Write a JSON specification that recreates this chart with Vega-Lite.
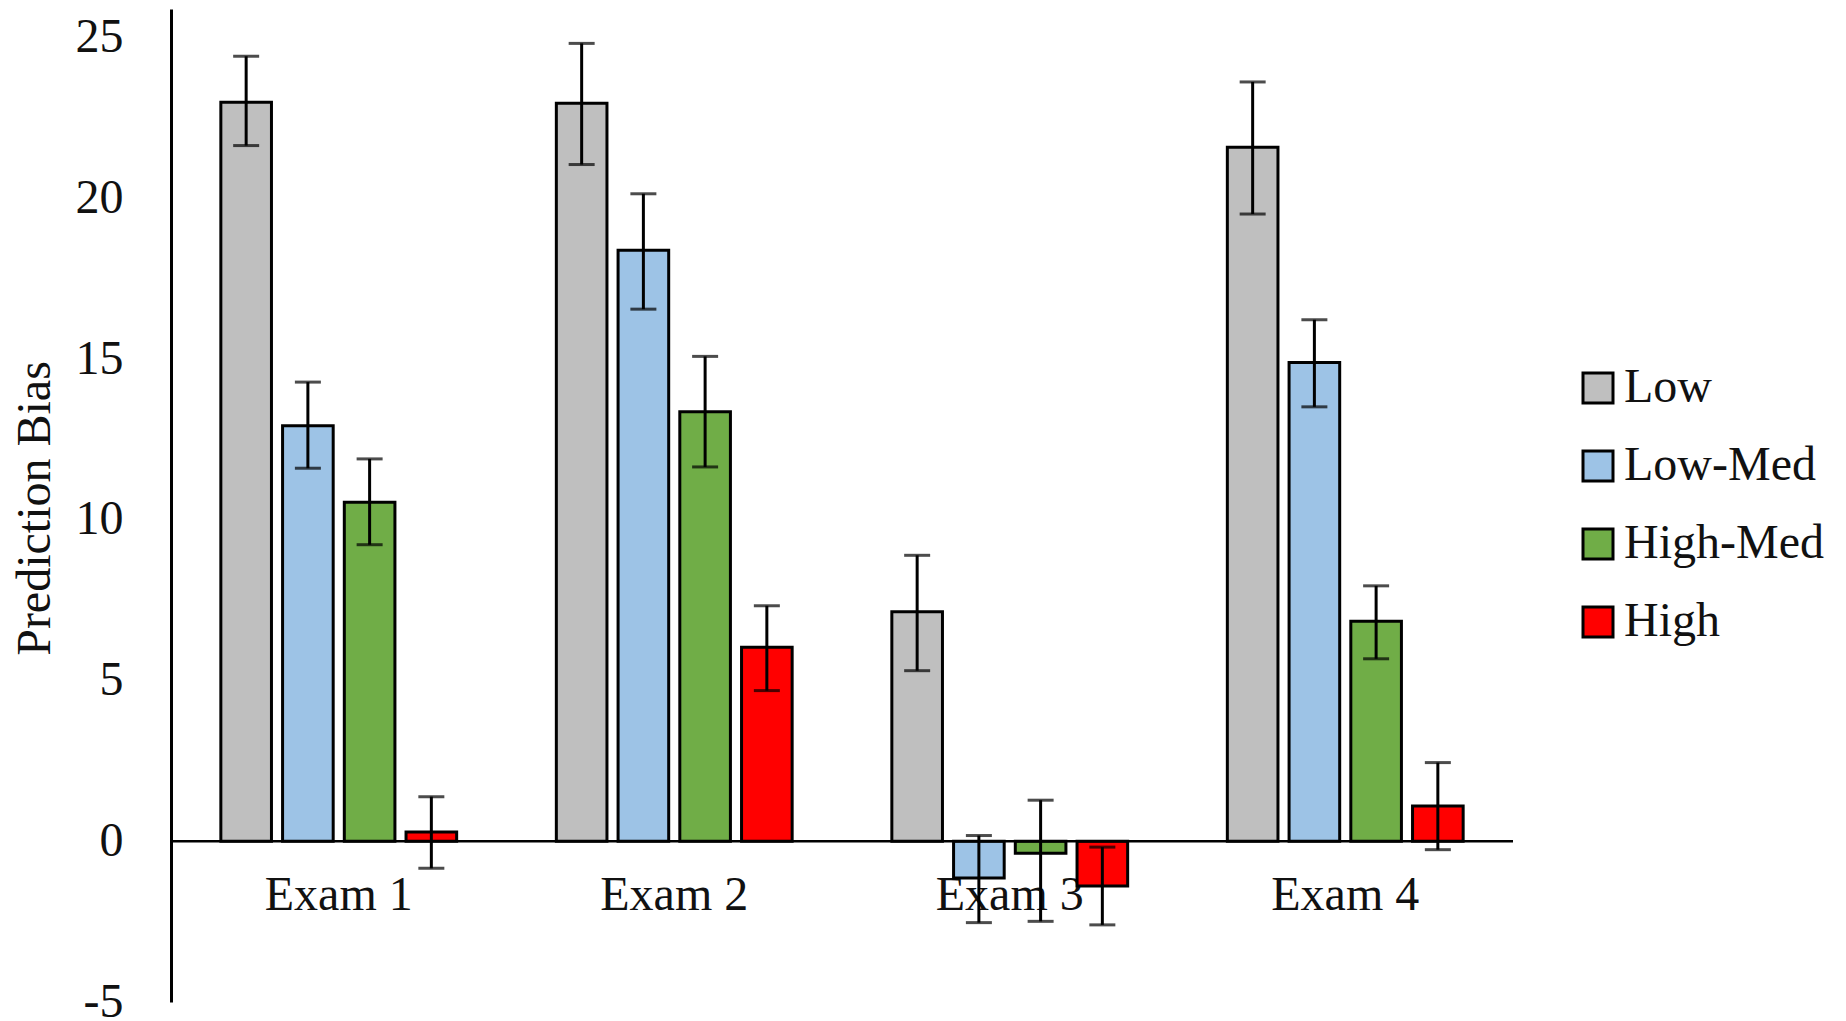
{
  "$schema": "https://vega.github.io/schema/vega-lite/v6.json",
  "autosize": "none",
  "width": 1342,
  "height": 993,
  "padding": {"left": 171, "top": 9, "right": 333, "bottom": 19},
  "background": "white",
  "config": {
    "view": {"stroke": null},
    "font": "Liberation Serif"
  },
  "data": {
    "values": [
      {"exam": "Exam 1", "group": "Low", "value": 23.0, "lo": 21.65, "hi": 24.43},
      {"exam": "Exam 1", "group": "Low-Med", "value": 12.93, "lo": 11.61, "hi": 14.29},
      {"exam": "Exam 1", "group": "High-Med", "value": 10.55, "lo": 9.23, "hi": 11.9},
      {"exam": "Exam 1", "group": "High", "value": 0.29, "lo": -0.84, "hi": 1.39},
      {"exam": "Exam 2", "group": "Low", "value": 22.97, "lo": 21.06, "hi": 24.83},
      {"exam": "Exam 2", "group": "Low-Med", "value": 18.39, "lo": 16.56, "hi": 20.15},
      {"exam": "Exam 2", "group": "High-Med", "value": 13.37, "lo": 11.65, "hi": 15.09},
      {"exam": "Exam 2", "group": "High", "value": 6.04, "lo": 4.69, "hi": 7.33},
      {"exam": "Exam 3", "group": "Low", "value": 7.14, "lo": 5.31, "hi": 8.9},
      {"exam": "Exam 3", "group": "Low-Med", "value": -1.14, "lo": -2.53, "hi": 0.18},
      {"exam": "Exam 3", "group": "High-Med", "value": -0.37, "lo": -2.49, "hi": 1.28},
      {"exam": "Exam 3", "group": "High", "value": -1.39, "lo": -2.6, "hi": -0.18},
      {"exam": "Exam 4", "group": "Low", "value": 21.6, "lo": 19.52, "hi": 23.63},
      {"exam": "Exam 4", "group": "Low-Med", "value": 14.9, "lo": 13.52, "hi": 16.23},
      {"exam": "Exam 4", "group": "High-Med", "value": 6.85, "lo": 5.68, "hi": 7.95},
      {"exam": "Exam 4", "group": "High", "value": 1.1, "lo": -0.26, "hi": 2.45}
    ]
  },
  "encoding": {
    "x": {
      "field": "exam",
      "type": "nominal",
      "scale": {"paddingInner": 0.264, "paddingOuter": 0.132},
      "axis": {
        "title": null,
        "domain": false,
        "ticks": false,
        "labelAngle": 0,
        "labelFont": "Liberation Serif",
        "labelFontSize": 48,
        "labelColor": "#111111",
        "labelPadding": 30,
        "offset": -160.6
      }
    },
    "xOffset": {
      "field": "group",
      "type": "nominal",
      "sort": ["Low", "Low-Med", "High-Med", "High"],
      "scale": {"paddingInner": 0.18, "paddingOuter": 0.09}
    }
  },
  "layer": [
    {
      "mark": {"type": "bar", "stroke": "black", "strokeWidth": 3},
      "encoding": {
        "y": {
          "field": "value",
          "type": "quantitative",
          "scale": {"domain": [-5, 25.9], "nice": false, "zero": false},
          "axis": {
            "values": [-5, 0, 5, 10, 15, 20, 25],
            "labelExpr": "'' + datum.value",
            "grid": false,
            "ticks": false,
            "domainColor": "black",
            "domainWidth": 3,
            "labelFont": "Liberation Serif",
            "labelFontSize": 48,
            "labelColor": "#111111",
            "labelPadding": 48,
            "title": "Prediction Bias",
            "titleFont": "Liberation Serif",
            "titleFontSize": 48,
            "titleFontWeight": "normal",
            "titleColor": "#111111",
            "titleX": -136,
            "titleY": 499,
            "titleAngle": -90,
            "titleAlign": "center",
            "titleBaseline": "middle"
          }
        },
        "color": {
          "field": "group",
          "type": "nominal",
          "sort": ["Low", "Low-Med", "High-Med", "High"],
          "scale": {
            "domain": ["Low", "Low-Med", "High-Med", "High"],
            "range": ["#BFBFBF", "#9DC3E6", "#70AD47", "#FF0000"]
          },
          "legend": {
            "title": null,
            "orient": "none",
            "legendX": 1403,
            "legendY": 355,
            "padding": 0,
            "symbolType": "square",
            "symbolSize": 900,
            "symbolStrokeColor": "black",
            "symbolStrokeWidth": 3,
            "symbolOpacity": 1,
            "labelFont": "Liberation Serif",
            "labelFontSize": 48,
            "labelColor": "#111111",
            "labelOffset": 2,
            "rowPadding": 30,
            "labelLimit": 400
          }
        }
      }
    },
    {
      "mark": {"type": "rule", "color": "black", "strokeWidth": 3},
      "encoding": {
        "y": {"field": "lo", "type": "quantitative"},
        "y2": {"field": "hi"}
      }
    },
    {
      "mark": {"type": "tick", "color": "black", "thickness": 3, "size": 26, "orient": "horizontal"},
      "encoding": {"y": {"field": "lo", "type": "quantitative"}}
    },
    {
      "mark": {"type": "tick", "color": "black", "thickness": 3, "size": 26, "orient": "horizontal"},
      "encoding": {"y": {"field": "hi", "type": "quantitative"}}
    },
    {
      "data": {"values": [{}]},
      "mark": {"type": "rule", "color": "black", "strokeWidth": 2.5},
      "encoding": {"x": null, "xOffset": null, "y": {"datum": 0, "type": "quantitative"}}
    }
  ]
}
